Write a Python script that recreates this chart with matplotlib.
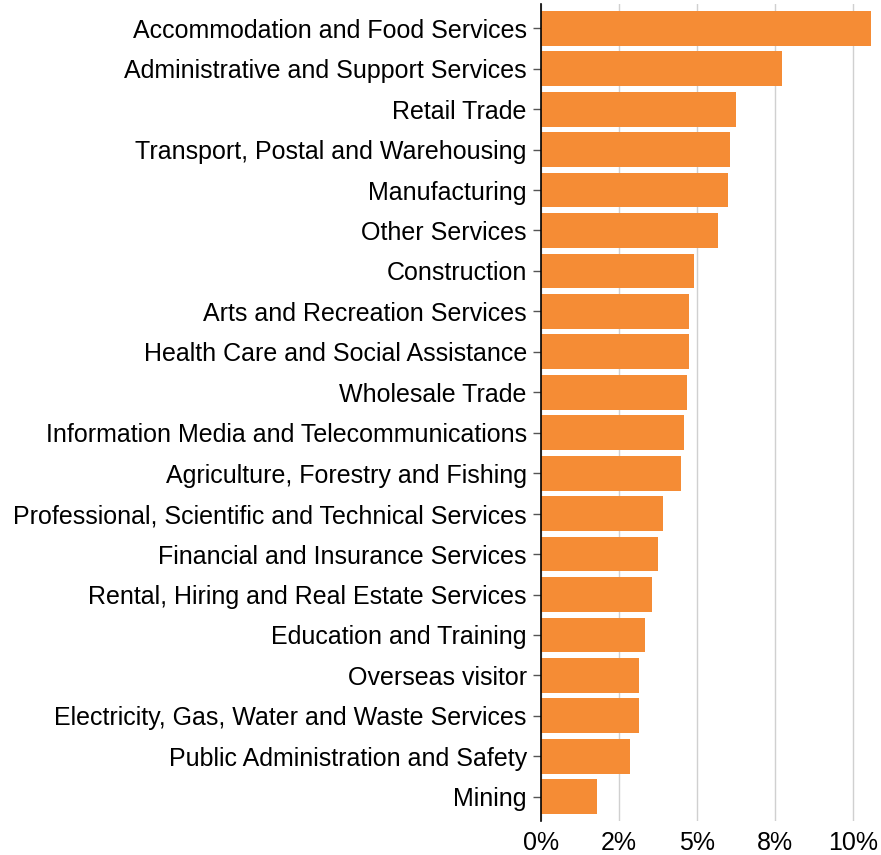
import matplotlib
matplotlib.use("Agg")
import matplotlib.pyplot as plt

categories = [
    "Accommodation and Food Services",
    "Administrative and Support Services",
    "Retail Trade",
    "Transport, Postal and Warehousing",
    "Manufacturing",
    "Other Services",
    "Construction",
    "Arts and Recreation Services",
    "Health Care and Social Assistance",
    "Wholesale Trade",
    "Information Media and Telecommunications",
    "Agriculture, Forestry and Fishing",
    "Professional, Scientific and Technical Services",
    "Financial and Insurance Services",
    "Rental, Hiring and Real Estate Services",
    "Education and Training",
    "Overseas visitor",
    "Electricity, Gas, Water and Waste Services",
    "Public Administration and Safety",
    "Mining",
]
values = [10.57, 7.72, 6.24, 6.05, 5.99, 5.67, 4.90, 4.75, 4.73, 4.67,
          4.57, 4.49, 3.92, 3.75, 3.56, 3.33, 3.14, 3.13, 2.85, 1.81]
xticks = [0, 2.5, 5, 7.5, 10]
xticklabels = ["0%", "2%", "5%", "8%", "10%"]

plt.rcParams['font.family'] = ['Liberation Sans', 'DejaVu Sans']

W, H = 881, 855
fig = plt.figure(figsize=(W / 100, H / 100), dpi=100)
left, right, top, bottom = 540.7, 871.3, 4, 821
ax = fig.add_axes([left / W, 1 - bottom / H, (right - left) / W, (bottom - top) / H])

ypos = list(range(len(categories)))
ax.barh(ypos, values, height=0.86, color="#F58C35", edgecolor="none", zorder=2)
ax.set_ylim(len(categories) - 0.4, -0.6)
ax.set_xlim(0, max(values))

ax.set_yticks(ypos)
ax.set_yticklabels(categories, fontsize=18, color="black")
ax.set_xticks(xticks)
ax.set_xticklabels(xticklabels, fontsize=18, color="black")
ax.grid(axis="x", color="#d0d0d0", linewidth=1, zorder=0)
for s in ["top", "right", "bottom"]:
    ax.spines[s].set_visible(False)
ax.spines["left"].set_color("black")
ax.spines["left"].set_linewidth(1.2)
ax.tick_params(axis="y", length=6, width=1, color="#555555", pad=4)
ax.tick_params(axis="x", length=0, pad=7)

fig.savefig("out.png", dpi=100)
